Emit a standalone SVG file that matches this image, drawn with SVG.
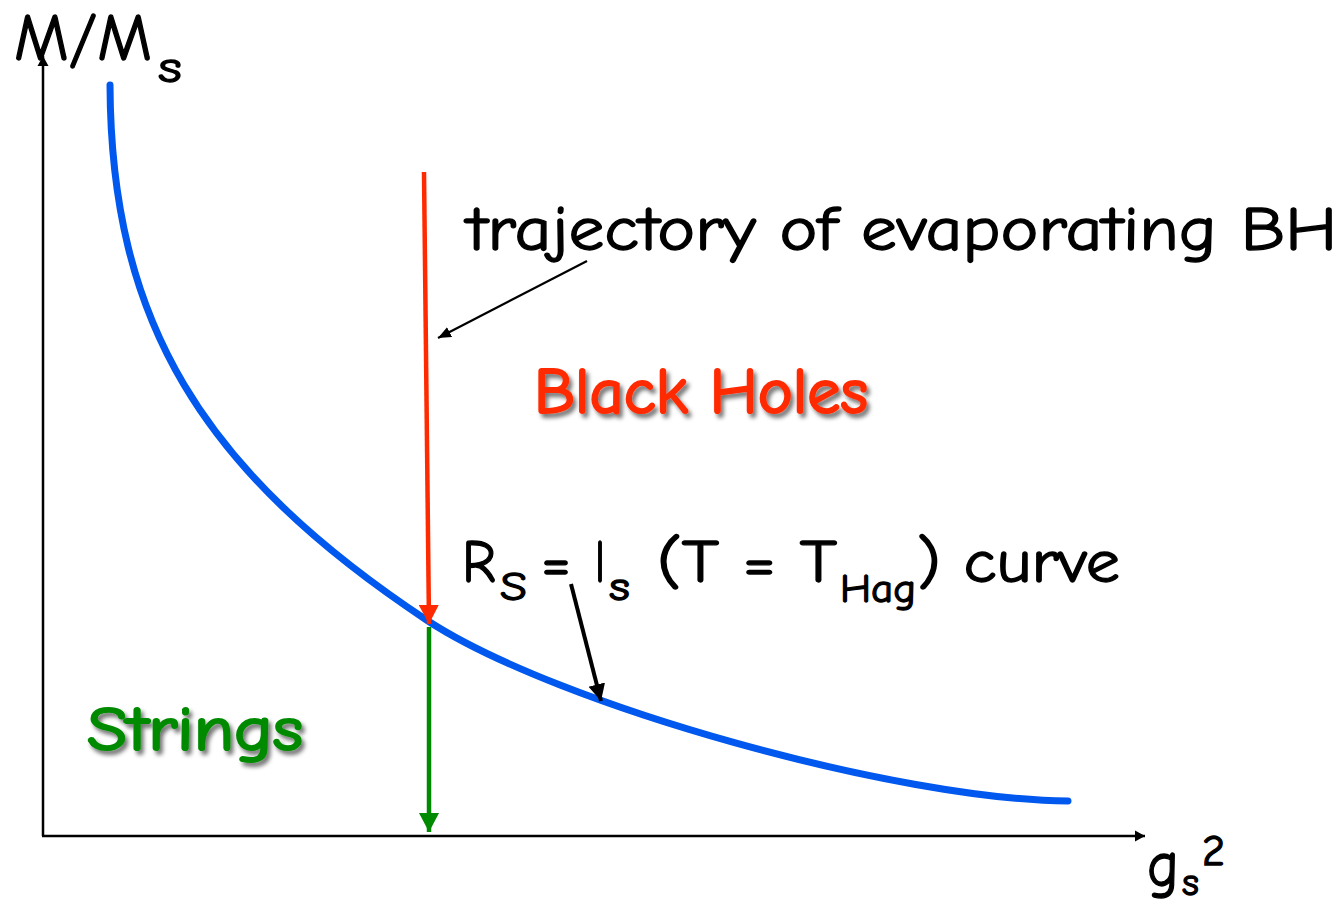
<svg xmlns="http://www.w3.org/2000/svg" width="1343" height="906" viewBox="0 0 1343 906">
<style>
text{font-family:"Comic Sans MS","Comic Neue","DejaVu Sans",sans-serif;}
.blk{fill:#000;stroke:#000;stroke-width:1.3;}
.ax{stroke:#000;stroke-width:2.5;fill:none;}
</style>
<defs>
<marker id="axhead" markerUnits="userSpaceOnUse" markerWidth="12" markerHeight="12" refX="10" refY="6" orient="auto">
<path d="M0,0.5 L10,6 L0,11.5 Z" fill="#000"/>
</marker>
<marker id="redhead" markerUnits="userSpaceOnUse" markerWidth="20" markerHeight="20" refX="19" refY="10" orient="auto">
<path d="M0,0 L19,10 L0,20 Z" fill="#ff2a00"/>
</marker>
<marker id="greenhead" markerUnits="userSpaceOnUse" markerWidth="20" markerHeight="20" refX="19" refY="10" orient="auto">
<path d="M0,0 L19,10 L0,20 Z" fill="#008a00"/>
</marker>
<marker id="bighead" markerUnits="userSpaceOnUse" markerWidth="18" markerHeight="18" refX="17" refY="9" orient="auto">
<path d="M0,0.5 L17,9 L0,17.5 Z" fill="#000"/>
</marker>
<marker id="smallhead" markerUnits="userSpaceOnUse" markerWidth="14" markerHeight="12" refX="13" refY="6" orient="auto">
<path d="M0,0.5 L13,6 L0,11.5 Z" fill="#000"/>
</marker>
<filter id="shadow" x="-10%" y="-20%" width="130%" height="160%">
<feDropShadow dx="3" dy="4" stdDeviation="2" flood-color="#000" flood-opacity="0.55"/>
</filter>
</defs>

<g id="axes">
<line class="ax" x1="43" y1="836" x2="43" y2="56" marker-end="url(#axhead)"/>
<line class="ax" x1="42" y1="836" x2="1145" y2="836" marker-end="url(#axhead)"/>
</g>

<g id="curve">
<path d="M110,85 C111,320 200,470 428,621 C560,706.5 900,800 1068,801" fill="none" stroke="#0058ee" stroke-width="7" stroke-linecap="round"/>
</g>

<g id="connectors">
<line x1="424" y1="172" x2="429" y2="624" stroke="#ff2a00" stroke-width="4.5" marker-end="url(#redhead)"/>
<line x1="429" y1="627" x2="429" y2="832" stroke="#008a00" stroke-width="4.5" marker-end="url(#greenhead)"/>
<line x1="587" y1="261" x2="438" y2="338" stroke="#000" stroke-width="2.2" marker-end="url(#smallhead)"/>
<line x1="571" y1="584" x2="601" y2="701" stroke="#000" stroke-width="4" marker-end="url(#bighead)"/>
</g>

<g id="label-yaxis">
<text x="14" y="60" font-size="66" class="blk" textLength="138" lengthAdjust="spacingAndGlyphs">M/M</text>
<text x="158" y="82" font-size="44" class="blk" textLength="24" lengthAdjust="spacingAndGlyphs">s</text>
</g>

<g id="label-xaxis">
<text x="1147" y="886" font-size="64" class="blk" textLength="32" lengthAdjust="spacingAndGlyphs">g</text>
<text x="1182" y="895" font-size="38" class="blk" textLength="17" lengthAdjust="spacingAndGlyphs">s</text>
<text x="1202" y="865" font-size="42" class="blk" textLength="23" lengthAdjust="spacingAndGlyphs">2</text>
</g>

<g id="label-trajectory">
<text x="467" y="250" font-size="62" class="blk" textLength="870" lengthAdjust="spacingAndGlyphs">trajectory of evaporating BH</text>
</g>

<g id="label-blackholes">
<text x="534" y="413" font-size="64" fill="#ff2a00" stroke="#ff2a00" stroke-width="2.2" filter="url(#shadow)" textLength="334" lengthAdjust="spacingAndGlyphs">Black Holes</text>
</g>

<g id="label-strings">
<text x="87" y="750" font-size="62" fill="#008a00" stroke="#008a00" stroke-width="2.2" filter="url(#shadow)" textLength="216" lengthAdjust="spacingAndGlyphs">Strings</text>
</g>

<g id="label-curve">
<text x="462" y="582" font-size="60" class="blk" textLength="34" lengthAdjust="spacingAndGlyphs">R</text>
<text x="500" y="600" font-size="40" class="blk" textLength="27" lengthAdjust="spacingAndGlyphs">S</text>
<text x="541" y="582" font-size="60" class="blk" textLength="30" lengthAdjust="spacingAndGlyphs">=</text>
<text x="595" y="582" font-size="60" class="blk" textLength="10" lengthAdjust="spacingAndGlyphs">l</text>
<text x="609" y="600" font-size="40" class="blk" textLength="21" lengthAdjust="spacingAndGlyphs">s</text>
<text x="657" y="582" font-size="60" class="blk" textLength="180" lengthAdjust="spacingAndGlyphs">(T = T</text>
<text x="840" y="602" font-size="40" class="blk" textLength="76" lengthAdjust="spacingAndGlyphs">Hag</text>
<text x="917" y="582" font-size="60" class="blk" textLength="203" lengthAdjust="spacingAndGlyphs">) curve</text>
</g>
</svg>
